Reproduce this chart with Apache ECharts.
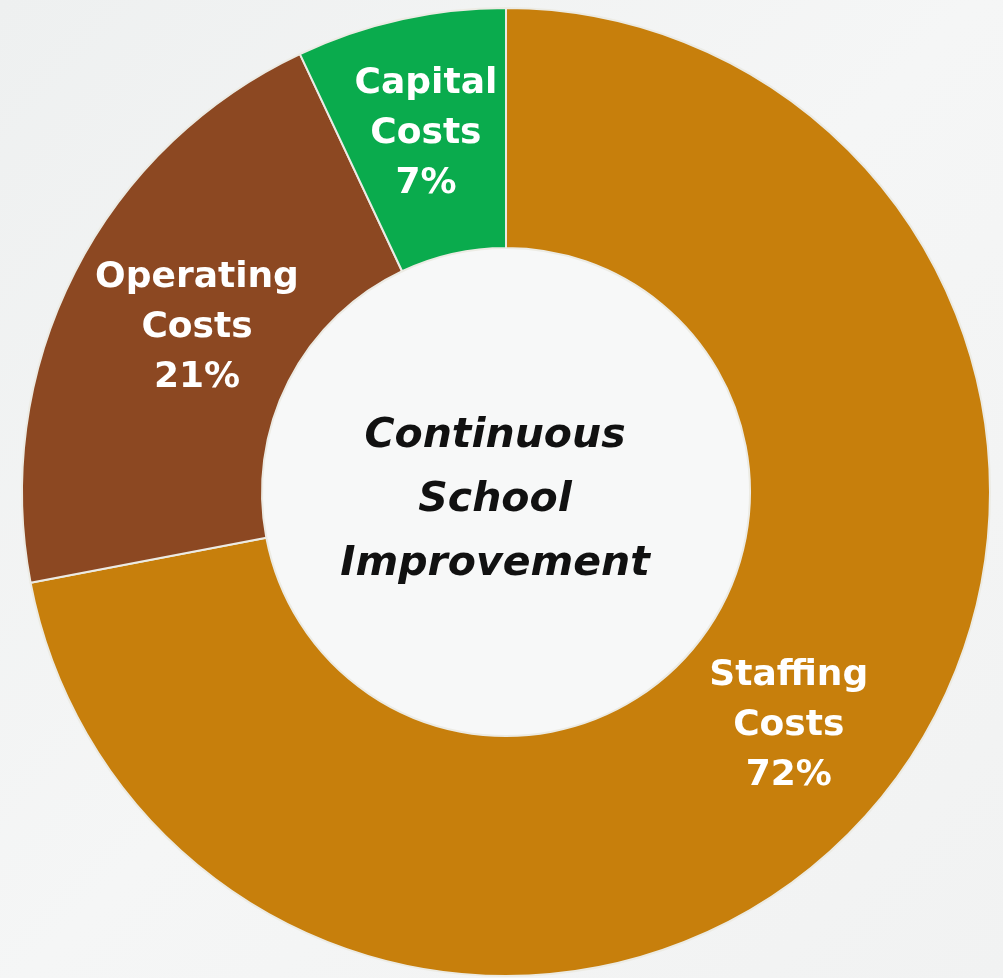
<!DOCTYPE html>
<html lang="en">
<head>
    <meta charset="UTF-8">
    <title>Continuous School Improvement</title>
    <script src="https://cdn.jsdelivr.net/npm/echarts@6/dist/echarts.min.js"></script>
    <style>
        html, body { margin: 0; padding: 0; }
        #chart { width: 1003px; height: 978px; }
    </style>
</head>
<body>
<div id="chart"></div>
<script>
// slices go clockwise from 12 o'clock
const categories = ['Staffing Costs', 'Operating Costs', 'Capital Costs'];
const shares = [72, 21, 7];
const sliceColors = ['#c77f0c', '#8c4822', '#0aab4d'];
const centerLines = ['Continuous', 'School', 'Improvement'];

const chart = echarts.init(document.getElementById('chart'));

const pieData = categories.map((name, i) => {
    const item = { name: name, value: shares[i], itemStyle: { color: sliceColors[i] } };
    // the operating label sits a bit right of the slice middle in the original
    if (i === 1) item.label = { offset: [18, 2] };
    return item;
});

chart.setOption({
    backgroundColor: {
        type: 'linear', x: 0, y: 0, x2: 1, y2: 1,
        colorStops: [
            { offset: 0, color: '#eef0f0' },
            { offset: 0.5, color: '#f5f6f6' },
            { offset: 1, color: '#f1f2f2' }
        ]
    },
    graphic: [{
        type: 'circle',
        shape: { cx: 506, cy: 492, r: 244 },
        style: { fill: '#f7f8f8' },
        z: 0
    }, {
        type: 'text',
        x: 495,
        y: 500,
        style: {
            text: centerLines.join('\n'),
            font: 'italic bold 41px "DejaVu Sans"',
            fill: '#111111',
            align: 'center',
            verticalAlign: 'middle',
            lineHeight: 64
        },
        z: 10
    }],
    series: [{
        type: 'pie',
        center: [506, 492],
        radius: [244, 484],
        startAngle: 90,
        clockwise: true,
        silent: true,
        itemStyle: {
            borderColor: '#ecebe4',
            borderWidth: 2
        },
        label: {
            position: 'inside',
            color: '#ffffff',
            fontFamily: 'DejaVu Sans',
            fontWeight: 'bold',
            fontSize: 36,
            lineHeight: 50,
            formatter: p => p.name.split(' ').join('\n') + '\n' + p.value + '%'
        },
        labelLine: { show: false },
        data: pieData
    }]
});
</script>
</body>
</html>
